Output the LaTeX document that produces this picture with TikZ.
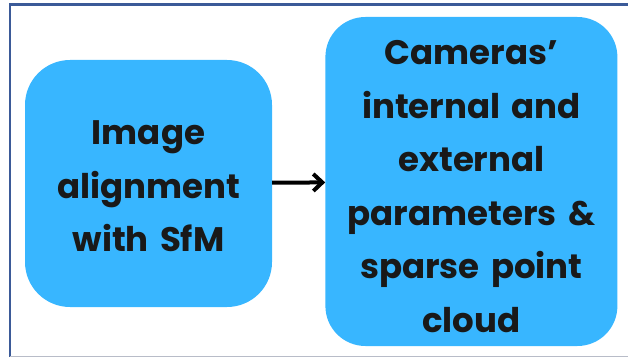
\documentclass[tikz,border=0pt]{standalone}
\usepackage{fontspec}
\setmainfont{Poppins}
\usetikzlibrary{positioning,arrows.meta}
\definecolor{boxblue}{HTML}{38B6FF}
\definecolor{framecol}{HTML}{3B5A98}
\definecolor{bottomcol}{HTML}{B8BCC8}

\begin{document}
\begin{tikzpicture}[x=1pt,y=1pt,
                    block_step/.style ={rectangle, fill=boxblue, inner sep=0pt,
                        align=center, font=\fontsize{34}{53.5}\selectfont\bfseries,
                        text=black!90},
                    line/.style ={draw, line width=4pt, -{Straight Barb[length=9pt,width=17pt]}}]
    \useasboundingbox (0,0) rectangle (628,-358);
    % frame round the picture
    \draw[framecol, line width=2.5pt] (628,-4.5) -- (10,-4.5) -- (10,-357);
    \draw[bottomcol, line width=1.5pt] (10,-356.5) -- (628,-356.5);

    % the two steps
    \node [block_step, rounded corners=45pt, minimum width=247pt, minimum height=247pt,
           text width=230pt] (align) at (148.5,-183.5) {\rule{0pt}{30pt}Image\\alignment\\with SfM};
    \node [block_step, rounded corners=40pt, minimum width=292pt, minimum height=329pt,
           text width=280pt, right=53pt of align, yshift=2pt] (params)
          {\rule{0pt}{34pt}Cameras’\\internal and\\external\\parameters \&\\sparse point\\cloud};

    % connecting nodes with paths
    \path [line] (align) -- (params);
\end{tikzpicture}
\end{document}
